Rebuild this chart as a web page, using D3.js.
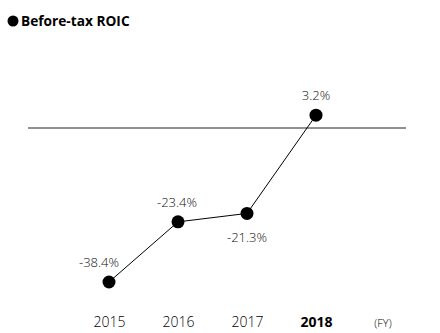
<!DOCTYPE html>
<html>
<head>
<meta charset="utf-8">
<script src="https://d3js.org/d3.v7.min.js"></script>
<style>
  body { margin: 0; background: #fff; }
  text { font-family: "Open Sans", sans-serif; }
</style>
</head>
<body>
<div id="chart"></div>
<script>

// data
var years = ["2015", "2016", "2017", "2018"];
var roic = [-38.4, -23.4, -21.3, 3.2];
var labelPos = ["above", "above", "below", "above"];
var boldYear = "2018";

var width = 440, height = 333;

var svg = d3.select("#chart")
  .append("svg")
    .attr("width", width)
    .attr("height", height);

// legend / title
svg.append("circle")
  .attr("cx", 13).attr("cy", 21).attr("r", 5.5)
  .style("fill", "#000");
svg.append("text")
  .attr("x", 21).attr("y", 26)
  .style("font-size", "13.7px")
  .style("font-weight", "bold")
  .text("Before-tax ROIC");

// scales
var x = d3.scalePoint()
  .domain(years)
  .range([109, 316]);

var y = d3.scaleLinear()
  .domain([0, -38.4])
  .range([128, 282]);

// zero line
svg.append("line")
  .attr("x1", 28).attr("x2", 406)
  .attr("y1", y(0)).attr("y2", y(0))
  .style("stroke", "#222")
  .style("stroke-width", 1);

var data = years.map(function(d, i) { return { year: d, value: roic[i], pos: labelPos[i] }; });

// the line
svg.append("path")
  .datum(data)
  .attr("fill", "none")
  .attr("stroke", "#000")
  .attr("stroke-width", 1)
  .attr("d", d3.line()
    .x(function(d) { return x(d.year); })
    .y(function(d) { return y(d.value); }));

svg.selectAll(".dot")
  .data(data)
  .enter().append("circle")
    .attr("class", "dot")
    .attr("cx", function(d) { return x(d.year); })
    .attr("cy", function(d) { return y(d.value); })
    .attr("r", 6.5)
    .style("fill", "#000");

// value labels (plain hyphen for the minus, as in the original)
svg.selectAll(".lbl")
  .data(data)
  .enter().append("text")
    .attr("class", "lbl")
    .attr("x", function(d, i) { return x(d.year) + (i === 0 ? -10 : (i === 1 ? -1 : 0)); })
    .attr("y", function(d) { return d.pos === "above" ? y(d.value) - 15 : y(d.value) + 29; })
    .attr("text-anchor", "middle")
    .style("font-size", "13px")
    .style("font-weight", 300)
    .style("fill", "#111")
    .text(function(d) { return d.value.toFixed(1) + "%"; });

// x axis labels (no axis line)
var xAxis = svg.append("g")
  .attr("transform", "translate(0,317)")
  .call(d3.axisBottom(x).tickSize(0).tickPadding(0));
xAxis.select(".domain").remove();
xAxis.selectAll("text")
  .attr("dy", "0.71em")
  .style("font-family", "'Open Sans', sans-serif")
  .style("font-size", "14px")
  .style("font-weight", function(d) { return d === boldYear ? "bold" : 300; })
  .style("fill", "#000");

svg.append("text")
  .attr("x", 383).attr("y", 327)
  .attr("text-anchor", "middle")
  .style("font-size", "11px")
  .style("font-weight", 300)
  .text("(FY)");

</script>
</body>
</html>
